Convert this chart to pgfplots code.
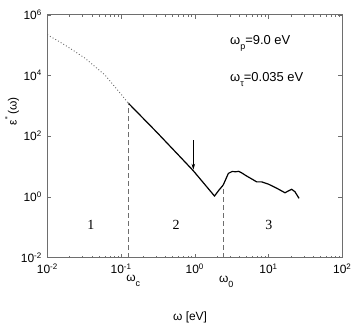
\documentclass[border=0pt]{standalone}
\usepackage{fontspec}
\setmainfont{Liberation Sans}
\newfontfamily\serif{Liberation Serif}
\usepackage{pgfplots}
\pgfplotsset{compat=1.18}
\usetikzlibrary{arrows.meta}
\definecolor{axgray}{HTML}{6E6E6E}
\newcommand{\lowsub}[1]{\raisebox{-5bp}{\fontsize{9}{9}\selectfont #1}}

\begin{document}
\begin{tikzpicture}
\path[use as bounding box] (-47.3bp,-69.5bp) rectangle (306.7bp,257.5bp);
\begin{axis}[
  at={(0,0)}, anchor=south west,
  scale only axis, width=295bp, height=242.8bp,
  xmode=log, ymode=log,
  xmin=1e-2, xmax=1e2, ymin=1e-2, ymax=1e6,
  xtick={1e-2,1e-1,1,10,100},
  xticklabels={10\textsuperscript{-2},10\textsuperscript{-1},10\textsuperscript{0},10\textsuperscript{1},10\textsuperscript{2}},
  ytick={1e-2,1,1e2,1e4,1e6},
  yticklabels={10\textsuperscript{-2},10\textsuperscript{0},10\textsuperscript{2},10\textsuperscript{4},10\textsuperscript{6}},
  yminorticks=false,
  tick align=inside,
  major tick length=4bp, minor tick length=2bp,
  tick style={color=axgray},
  axis line style={color=axgray, line width=0.9bp},
  ticklabel style={font=\fontsize{12}{12}\selectfont},
  xticklabel style={yshift=-3bp},
  yticklabel style={xshift=-2bp},
  clip=false,
]
% Drude part (dotted)
\addplot[gray!80!black, line width=0.9bp, dash pattern=on 0.9bp off 2.2bp] coordinates {
  (0.010,2.2e5) (0.0174,1.0e5) (0.0324,3.7e4) (0.0605,1.03e4) (0.1,2.4e3) (0.125,1.23e3)
};
% measured part
\addplot[black, line width=1.2bp] coordinates {
  (0.125,1230) (0.3,140) (0.63,21) (0.955,7.2) (1.85,1.06) (2.1,1.6) (2.43,2.45)
  (2.85,5.9) (3.2,6.8) (3.6,6.7) (3.95,6.9) (4.3,6.2) (5.0,4.9) (6.0,3.8)
  (6.9,3.1) (8.1,3.1) (10,2.6) (13,1.9) (16.7,1.36) (18.5,1.55) (20.6,1.77)
  (22.8,1.47) (25.9,0.89)
};
% dashed markers
\addplot[axgray, dash pattern=on 5bp off 3bp, line width=0.7bp] coordinates {(0.125,1e-2) (0.125,1230)};
\addplot[axgray, dash pattern=on 5bp off 3bp, line width=0.7bp] coordinates {(2.43,1e-2) (2.43,2.45)};
\draw[-{Stealth[length=6bp,width=3.5bp]}, line width=0.6bp] (axis cs:0.955,74) -- (axis cs:0.955,7.8);

\node[anchor=west, font=\fontsize{13}{13}\selectfont] at (axis cs:2.71,1.17e5) {ω\lowsub{p}=9.0 eV};
\node[anchor=west, font=\fontsize{13}{13}\selectfont] at (axis cs:2.71,7.1e3) {ω\lowsub{τ}=0.035 eV};

\node[font=\serif\fontsize{14}{14}\selectfont] at (axis cs:0.039,0.117) {1};
\node[font=\serif\fontsize{14}{14}\selectfont] at (axis cs:0.556,0.117) {2};
\node[font=\serif\fontsize{14}{14}\selectfont] at (axis cs:10.1,0.117) {3};

\node[anchor=base west, inner sep=0pt, font=\fontsize{12}{12}\selectfont] at ([xshift=-2bp,yshift=-24bp]axis cs:0.125,1e-2) {ω\lowsub{c}};
\node[anchor=base west, inner sep=0pt, font=\fontsize{12}{12}\selectfont] at ([xshift=-4.3bp,yshift=-24.5bp]axis cs:2.43,1e-2) {ω\lowsub{0}};

\node[font=\fontsize{12}{12}\selectfont] at ([yshift=-59.5bp]rel axis cs:0.484,0) {ω [eV]};
\node[rotate=90, font=\fontsize{12}{12}\selectfont] at ([xshift=-35bp]rel axis cs:0,0.603) {ε\raisebox{5bp}{\fontsize{9}{9}\selectfont\textquotesingle\textquotesingle}\,(ω)};
\end{axis}
\end{tikzpicture}
\end{document}
